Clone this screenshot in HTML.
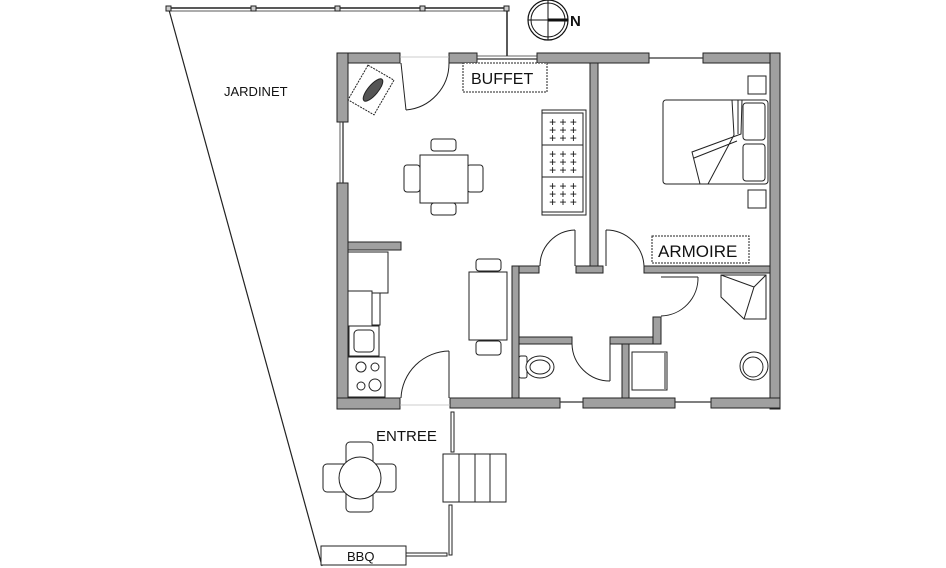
<!DOCTYPE html>
<html><head><meta charset="utf-8"><style>
html,body{margin:0;padding:0;background:#fff;}
svg{display:block;}
text{font-family:"Liberation Sans",sans-serif;fill:#111;}
</style></head><body>
<svg width="946" height="568" viewBox="0 0 946 568" xmlns="http://www.w3.org/2000/svg">
<g fill="none" stroke="#222" stroke-width="1">
<line x1="168" y1="8" x2="507" y2="8" stroke-width="1.5"/>
<line x1="168" y1="11" x2="507" y2="11" stroke-width="0.8"/>
<line x1="507" y1="8" x2="507" y2="56" stroke-width="1.5"/>
<line x1="169" y1="10" x2="322" y2="566" stroke-width="1.2"/>
<rect x="166" y="6" width="5" height="5" fill="#ccc"/><rect x="251" y="6" width="5" height="5" fill="#ccc"/>
<rect x="335" y="6" width="5" height="5" fill="#ccc"/><rect x="420" y="6" width="5" height="5" fill="#ccc"/>
<rect x="504" y="6" width="5" height="5" fill="#ccc"/>
</g>
<g stroke="#111" fill="none">
<circle cx="548" cy="20" r="20" stroke-width="1.2"/><circle cx="548" cy="20" r="17" stroke-width="1"/>
<line x1="528" y1="20" x2="568" y2="20"/><line x1="548" y1="0" x2="548" y2="40"/>
<line x1="548" y1="20" x2="568" y2="20" stroke-width="3"/>
</g>
<text x="570" y="26" font-size="15" font-weight="bold">N</text>
<text x="224" y="96" font-size="13">JARDINET</text>

<g fill="#a0a0a0" stroke="#222" stroke-width="1">
<rect x="337" y="53" width="63" height="10"/>
<rect x="449" y="53" width="28" height="10"/>
<rect x="537" y="53" width="112" height="10"/>
<rect x="703" y="53" width="77" height="10"/>
<rect x="337" y="53" width="11" height="69"/>
<rect x="337" y="183" width="11" height="226"/>
<rect x="770" y="53" width="10" height="356"/>
<rect x="337" y="398" width="63" height="11"/>
<rect x="450" y="398" width="110" height="10"/>
<rect x="583" y="398" width="92" height="10"/>
<rect x="711" y="398" width="69" height="10"/>
<rect x="348" y="242" width="53" height="8"/>
<rect x="590" y="63" width="8" height="203"/>
<rect x="512" y="266" width="27" height="7"/>
<rect x="576" y="266" width="27" height="7"/>
<rect x="644" y="266" width="126" height="7"/>
<rect x="512" y="266" width="7" height="132"/>
<rect x="519" y="337" width="53" height="7"/>
<rect x="610" y="337" width="51" height="7"/>
<rect x="653" y="317" width="8" height="27"/>
<rect x="622" y="344" width="7" height="54"/>
</g>
<g fill="none" stroke="#333" stroke-width="0.8">
<line x1="477" y1="56" x2="537" y2="56"/><line x1="477" y1="59" x2="537" y2="59" stroke-width="1.3"/>
<line x1="343" y1="122" x2="343" y2="183" stroke-width="1.3"/><line x1="340" y1="122" x2="340" y2="183"/>
<line x1="649" y1="58" x2="703" y2="58" stroke-width="1.3"/>
<line x1="560" y1="402" x2="583" y2="402" stroke-width="1.3"/><line x1="675" y1="402" x2="711" y2="402" stroke-width="1.3"/>
<line x1="400" y1="57" x2="449" y2="57" stroke="#bbb"/>
<line x1="400" y1="405" x2="450" y2="405" stroke="#bbb"/>
</g>

<g fill="none" stroke="#222" stroke-width="1">
<path d="M401 63 L406 110"/><path d="M406 110 A47 47 0 0 0 449 63"/>
<path d="M449 398 L449 351"/><path d="M449 351 A49 49 0 0 0 401 398"/>
<path d="M575 266 L575 230"/><path d="M575 230 A36 36 0 0 0 540 266"/>
<path d="M606 266 L606 230"/><path d="M606 230 A38 38 0 0 1 644 266"/>
<path d="M661 277 L698 277"/><path d="M698 277 A38 38 0 0 1 661 316"/>
<path d="M610 344 L610 381"/><path d="M610 381 A38 38 0 0 1 572 344"/>
</g>

<rect x="463" y="63" width="84" height="29" fill="#fff" stroke="#222" stroke-dasharray="2 1"/>
<text x="471" y="84" font-size="16">BUFFET</text>
<rect x="652" y="236" width="97" height="27" fill="#fff" stroke="#222" stroke-dasharray="2 1"/>
<text x="658" y="257" font-size="17">ARMOIRE</text>

<g fill="#fff" stroke="#222" stroke-width="1">
<rect x="356" y="70" width="30" height="40" transform="rotate(30 371 90)" stroke-dasharray="2 1"/>
<ellipse cx="373" cy="90" rx="5" ry="14" transform="rotate(40 373 90)" fill="#555"/>
<rect x="431" y="139" width="25" height="12" rx="3"/>
<rect x="431" y="203" width="25" height="12" rx="3"/>
<rect x="404" y="165" width="16" height="27" rx="3"/>
<rect x="467" y="165" width="16" height="27" rx="3"/>
<rect x="420" y="155" width="48" height="48"/>
<rect x="542" y="110" width="44" height="105"/>
<rect x="542" y="113" width="41" height="32"/><rect x="542" y="145" width="41" height="32"/><rect x="542" y="177" width="41" height="35"/>
<rect x="348" y="252" width="40" height="41"/>
<rect x="348" y="291" width="24" height="35"/><rect x="372" y="293" width="8" height="32"/>
<rect x="349" y="326" width="30" height="30"/><rect x="354" y="330" width="20" height="22" rx="4"/>
<rect x="348" y="357" width="37" height="40"/>
<circle cx="361" cy="367" r="5"/><circle cx="375" cy="367" r="4"/><circle cx="361" cy="386" r="4"/><circle cx="375" cy="385" r="6"/>
<rect x="476" y="259" width="25" height="12" rx="3"/>
<rect x="476" y="341" width="25" height="14" rx="3"/>
<rect x="469" y="272" width="38" height="68"/>
<rect x="748" y="76" width="18" height="18"/><rect x="748" y="190" width="18" height="18"/>
<rect x="663" y="100" width="105" height="84" rx="3"/>
<rect x="743" y="103" width="22" height="37" rx="3"/><rect x="743" y="144" width="22" height="37" rx="3"/>
<path d="M732 100 L734 135 L708 184 M738 100 L738 134 M742 100 L741 134 L692 152 L700 184 M694 158 L737 141"/>
<rect x="519" y="356" width="8" height="22" rx="2"/>
<ellipse cx="540" cy="367" rx="14" ry="11"/><ellipse cx="540" cy="367" rx="10" ry="7"/>
<rect x="632" y="352" width="35" height="38"/><line x1="665" y1="353" x2="665" y2="389"/>
<path d="M721 275 L766 275 L766 319 L744 319 L721 297 Z"/><line x1="721" y1="275" x2="754" y2="287"/><line x1="754" y1="287" x2="744" y2="319"/><line x1="754" y1="287" x2="766" y2="275"/>
<circle cx="754" cy="366" r="14"/><circle cx="753" cy="367" r="10"/>
<rect x="346" y="442" width="27" height="70" rx="4"/>
<rect x="323" y="464" width="73" height="28" rx="4"/>
<circle cx="360" cy="478" r="21"/>
<rect x="443" y="454" width="63" height="48"/>
<line x1="459" y1="454" x2="459" y2="502"/><line x1="475" y1="454" x2="475" y2="502"/><line x1="490" y1="454" x2="490" y2="502"/>
<rect x="451" y="412" width="3" height="40"/><rect x="449" y="505" width="3" height="50"/>
<rect x="406" y="553" width="41" height="3"/>
<rect x="321" y="546" width="85" height="19"/>
</g>
<g font-size="12" fill="#222" text-anchor="middle" letter-spacing="0">
<text x="563" y="126">+ + +</text><text x="563" y="134">+ + +</text><text x="563" y="142">+ + +</text>
<text x="563" y="158">+ + +</text><text x="563" y="166">+ + +</text><text x="563" y="174">+ + +</text>
<text x="563" y="190">+ + +</text><text x="563" y="198">+ + +</text><text x="563" y="206">+ + +</text>
</g>
<text x="376" y="441" font-size="15">ENTREE</text>
<text x="347" y="561" font-size="13">BBQ</text>
</svg>
</body></html>
